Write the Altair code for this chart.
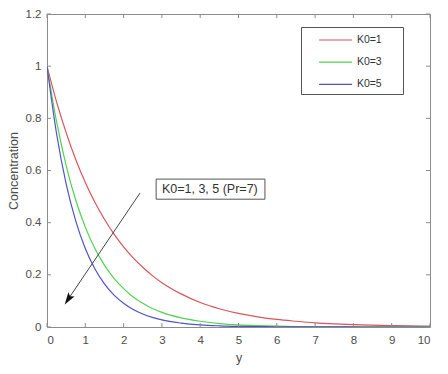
import altair as alt
import pandas as pd

# ---- data ----
y_pos = [0, 0.25, 0.5, 0.75, 1, 1.25, 1.5, 1.75, 2, 2.25, 2.5, 2.75, 3,
         3.5, 4, 4.5, 5, 5.5, 6, 6.5, 7, 7.5, 8, 8.5, 9, 9.5, 10]
conc_k1 = [1.000, 0.863, 0.745, 0.642, 0.554, 0.478, 0.413, 0.356, 0.307, 0.265, 0.229, 0.197, 0.170,
           0.127, 0.094, 0.070, 0.052, 0.039, 0.029, 0.022, 0.016, 0.012, 0.009, 0.007, 0.005, 0.004, 0.003]
conc_k3 = [1.000, 0.787, 0.619, 0.487, 0.383, 0.301, 0.237, 0.186, 0.147, 0.115, 0.091, 0.071, 0.056,
           0.035, 0.022, 0.013, 0.008, 0.005, 0.003, 0.002, 0.001, 0.001, 0.0005, 0.0003, 0.0002, 0.0001, 0.0001]
conc_k5 = [1.000, 0.741, 0.549, 0.407, 0.301, 0.223, 0.165, 0.122, 0.091, 0.067, 0.050, 0.037, 0.027,
           0.015, 0.008, 0.0045, 0.0025, 0.0014, 0.0007, 0.0004, 0.0002, 0.0001, 0.0001, 0, 0, 0, 0]
series_names = ["K0=1", "K0=3", "K0=5"]
series_colors = ["#d9545c", "#4fd24f", "#5252c8"]

x_ticks = [0, 1, 2, 3, 4, 5, 6, 7, 8, 9, 10]
y_ticks = [0, 0.2, 0.4, 0.6, 0.8, 1.0, 1.2]

note_text = ["K0=1, 3, 5 (Pr=7)"]
note_text_x = [3.0]
note_text_y = [0.53]
note_box_x = [2.85, 5.69]
note_box_y = [0.49, 0.567]
arrow_x = [2.43, 0.56]
arrow_y = [0.514, 0.108]

# ---- build tables ----
rows = []
for name, vals in zip(series_names, [conc_k1, conc_k3, conc_k5]):
    for xv, cv in zip(y_pos, vals):
        rows.append({"yv": xv, "c": cv, "series": name})
df = pd.DataFrame(rows)

W, H = 383, 313
axis_col = "#8c8c8c"
text_col = "#4d4d4d"
FONT = "Liberation Sans"

xs = alt.Scale(domain=[0, 10], nice=False, zero=False)
ys = alt.Scale(domain=[0, 1.2], nice=False)
ax_x = alt.Axis(values=x_ticks, title="y", format="~f", labelPadding=7, titlePadding=6)
ax_y = alt.Axis(values=y_ticks, title="Concentration", format="~f", labelPadding=6, titlePadding=5)

curves = alt.Chart(df).mark_line(interpolate="monotone", strokeWidth=1.2, clip=True).encode(
    x=alt.X("yv:Q", scale=xs, axis=ax_x),
    y=alt.Y("c:Q", scale=ys, axis=ax_y),
    color=alt.Color("series:N", scale=alt.Scale(domain=series_names, range=series_colors),
                    legend=alt.Legend(title=None, orient="none", legendX=254, legendY=13,
                                      strokeColor="#555555", fillColor="white", padding=4,
                                      symbolType="M-2,0H2M7.3,0", symbolSize=272, symbolStrokeWidth=1.2,
                                      symbolOffset=21.6, labelFontSize=10.5, labelOffset=12.3,
                                      labelColor="#333333", labelFont=FONT, rowPadding=7.2)),
)

xt = pd.DataFrame({"t": x_ticks})
yt = pd.DataFrame({"t": y_ticks})
tick_bottom = alt.Chart(xt).mark_rule(color=axis_col).encode(
    x=alt.X("t:Q", scale=xs, axis=ax_x), y=alt.value(H), y2=alt.value(H - 4))
tick_top = alt.Chart(xt).mark_rule(color=axis_col).encode(
    x=alt.X("t:Q", scale=xs, axis=ax_x), y=alt.value(0), y2=alt.value(4))
tick_left = alt.Chart(yt).mark_rule(color=axis_col).encode(
    y=alt.Y("t:Q", scale=ys, axis=ax_y), x=alt.value(0), x2=alt.value(4))
tick_right = alt.Chart(yt).mark_rule(color=axis_col).encode(
    y=alt.Y("t:Q", scale=ys, axis=ax_y), x=alt.value(W), x2=alt.value(W - 4))

box_df = pd.DataFrame({"x1": [note_box_x[0]], "x2": [note_box_x[1]],
                       "y1": [note_box_y[0]], "y2": [note_box_y[1]]})
note_box = alt.Chart(box_df).mark_rect(fill="white", stroke="#555555", strokeWidth=1).encode(
    x=alt.X("x1:Q", scale=xs, axis=ax_x), x2="x2:Q",
    y=alt.Y("y1:Q", scale=ys, axis=ax_y), y2="y2:Q")
note_df = pd.DataFrame({"x": note_text_x, "y": note_text_y, "label": note_text})
note = alt.Chart(note_df).mark_text(align="left", baseline="middle", fontSize=12.5,
                                    font=FONT, color="#333333").encode(
    x=alt.X("x:Q", scale=xs, axis=ax_x), y=alt.Y("y:Q", scale=ys, axis=ax_y), text="label:N")

arrow_df = pd.DataFrame({"x": arrow_x, "y": arrow_y, "o": [0, 1]})
arrow_line = alt.Chart(arrow_df).mark_line(color="#444444", strokeWidth=1).encode(
    x=alt.X("x:Q", scale=xs, axis=ax_x), y=alt.Y("y:Q", scale=ys, axis=ax_y), order="o:Q")
head_df = pd.DataFrame({"x": [arrow_x[1]], "y": [arrow_y[1]]})
arrow_head = alt.Chart(head_df).mark_point(
    shape="M0,-1L0.55,0.8L0,0.45L-0.55,0.8Z", filled=True, color="#111111",
    opacity=1, size=180, angle=214).encode(
    x=alt.X("x:Q", scale=xs, axis=ax_x), y=alt.Y("y:Q", scale=ys, axis=ax_y))

chart = alt.layer(
    curves, tick_bottom, tick_top, tick_left, tick_right,
    arrow_line, arrow_head, note_box, note
).properties(
    width=W, height=H,
    autosize=alt.AutoSizeParams(type="none"),
    padding={"left": 39, "top": 6, "right": 10, "bottom": 42},
).configure_view(
    stroke=axis_col, strokeWidth=1
).configure_axis(
    domain=False, ticks=False, tickSize=0, grid=False,
    labelColor=text_col, labelFont=FONT, labelFontSize=11.5,
    titleColor=text_col, titleFont=FONT, titleFontSize=12.5, titleFontWeight="normal"
)

chart.save("out.html", embed_options={"renderer": "svg", "actions": False})
